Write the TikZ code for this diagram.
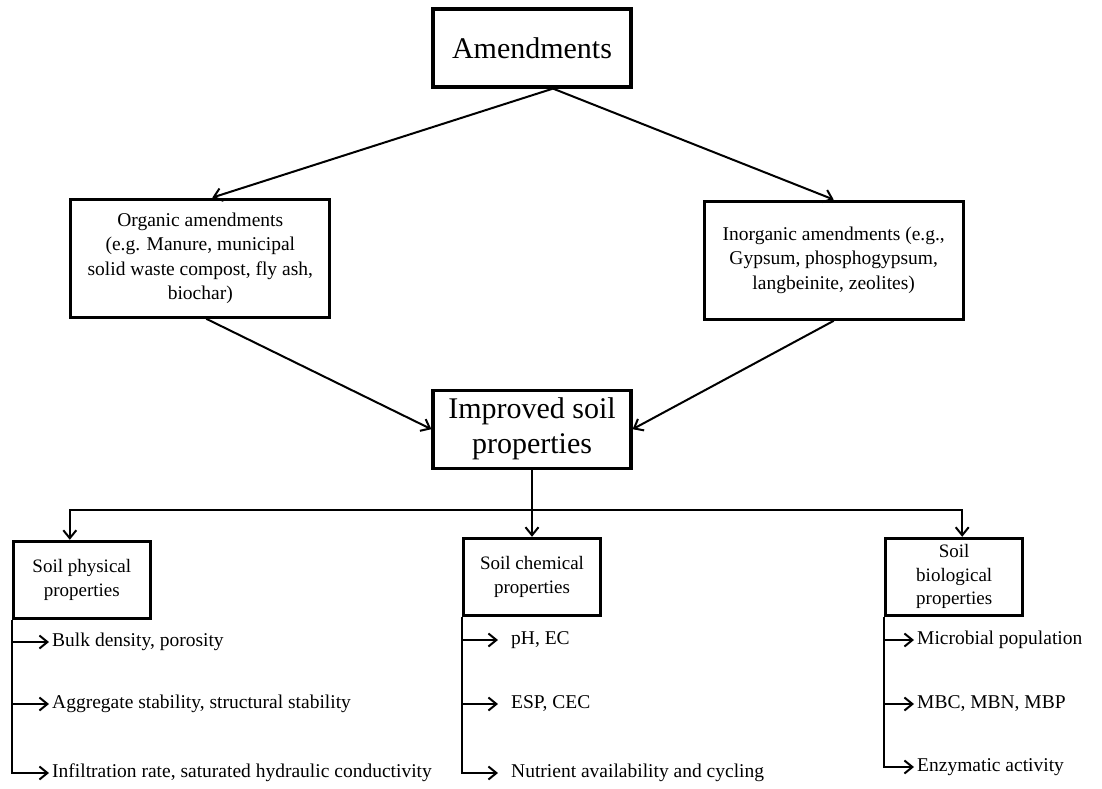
\documentclass[tikz,border=0pt]{standalone}
\usepackage{fontspec}
\setmainfont{Liberation Serif}
\usetikzlibrary{positioning, arrows.meta}

\begin{document}
\begin{tikzpicture}[
    x=1pt, y=-1pt,
    bigbox/.style={rectangle, draw=black, line width=3.2pt, minimum width=198pt, minimum height=78pt, align=center, font=\fontsize{30}{35}\selectfont},
    sidebox/.style={rectangle, draw=black, line width=3.2pt, minimum width=259pt, minimum height=118pt, align=center, font=\fontsize{19.5}{24.5}\selectfont},
    propbox/.style={rectangle, draw=black, line width=3.2pt, minimum width=137pt, minimum height=77pt, align=center, inner sep=3pt, font=\fontsize{19}{23.5}\selectfont},
    item/.style={anchor=west, inner sep=3pt, text height=13pt, text depth=4pt, font=\fontsize{19.5}{22}\selectfont},
    arrow/.style={line width=2pt, -{Straight Barb[length=8pt, width=13pt]}}
]
    \useasboundingbox (0,0) rectangle (1102,789);

    \node[bigbox] (amend) at (532,48) {Amendments};
    \node[sidebox, below left=109pt and 100pt of amend] (organic) {Organic amendments\\(e.g. Manure, municipal\\solid waste compost, fly ash,\\biochar)};
    \node[sidebox, below right=111pt and 70pt of amend] (inorganic) {Inorganic amendments (e.g.,\\Gypsum, phosphogypsum,\\langbeinite, zeolites)};
    \node[bigbox, below=300pt of amend] (improved) {Improved soil\\properties};
    \coordinate[below=40pt of improved] (split);
    \node[propbox, below=67pt of improved] (chem) {Soil chemical\\properties};
    \node[propbox, left=310pt of chem, yshift=-3pt] (phys) {Soil physical\\properties};
    \node[propbox, right=282pt of chem] (bio) {Soil\\biological\\properties};

    \node[item] (phys1) at (49,642) {Bulk density, porosity};
    \node[item] (phys2) at (49,704) {Aggregate stability, structural stability};
    \node[item] (phys3) at (49,773) {Infiltration rate, saturated hydraulic conductivity};
    \node[item, inner xsep=13pt] (chem1) at (498,640) {pH, EC};
    \node[item, inner xsep=13pt] (chem2) at (498,704) {ESP, CEC};
    \node[item, inner xsep=13pt] (chem3) at (498,773) {Nutrient availability and cycling};
    \node[item] (bio1) at (914,640) {Microbial population};
    \node[item] (bio2) at (914,704) {MBC, MBN, MBP};
    \node[item] (bio3) at (914,767) {Enzymatic activity};

    \draw[arrow] ([xshift=21pt]amend.south) -- ([xshift=12pt]organic.north);
    \draw[arrow] ([xshift=21pt]amend.south) -- (inorganic.north);
    \draw[arrow] ([xshift=6pt]organic.south) -- (improved.west);
    \draw[arrow] (inorganic.south) -- (improved.east);
    \draw[arrow] (improved) -- (chem);
    \draw[arrow] (split) -| ([xshift=-12pt]phys.north);
    \draw[arrow] (split) -| ([xshift=8pt]bio.north);

    \draw[arrow] (phys.south west) |- (phys1.west);
    \draw[arrow] (phys.south west) |- (phys2.west);
    \draw[arrow] (phys.south west) |- (phys3.west);
    \draw[arrow] (chem.south west) |- (chem1.west);
    \draw[arrow] (chem.south west) |- (chem2.west);
    \draw[arrow] (chem.south west) |- (chem3.west);
    \draw[arrow] (bio.south west) |- (bio1.west);
    \draw[arrow] (bio.south west) |- (bio2.west);
    \draw[arrow] (bio.south west) |- (bio3.west);

\end{tikzpicture}
\end{document}
